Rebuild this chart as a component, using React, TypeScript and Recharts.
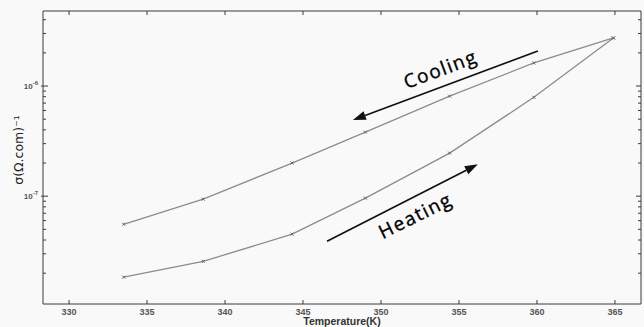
import React from 'react';
import {
  LineChart, Line, XAxis, YAxis, ReferenceLine, ReferenceDot,
} from 'recharts';

// temperature (K) of each measurement
const temperatures = [333.5, 338.6, 344.3, 349.0, 354.4, 359.8, 364.9];
// conductivity (Ohm.cm)^-1
const cooling = [5.56e-8, 9.4e-8, 2.0e-7, 3.82e-7, 8.1e-7, 1.62e-6, 2.73e-6];
const heating = [1.84e-8, 2.56e-8, 4.52e-8, 9.6e-8, 2.46e-7, 7.9e-7, 2.73e-6];

const xTicks = [330, 335, 340, 345, 350, 355, 360, 365];
const yMajor = [1e-7, 1e-6];
const yMinor = [2e-8, 3e-8, 4e-8, 5e-8, 6e-8, 7e-8, 8e-8, 9e-8,
  2e-7, 3e-7, 4e-7, 5e-7, 6e-7, 7e-7, 8e-7, 9e-7, 2e-6, 3e-6, 4e-6];
const yExponents = ['-7', '-6'];

const data = temperatures.map((t, i) => ({ t, cooling: cooling[i], heating: heating[i] }));
const yTicks = [...yMinor, ...yMajor].sort((a, b) => a - b);

const X_DOMAIN = [328.33, 366.67];
const Y_DOMAIN = [1.05e-8, 4.8e-6];

const axisColor = '#3a3a3a';
const tickFont = 'Liberation Sans, Arial, sans-serif';

const majorIndex = (v: number) => yMajor.findIndex((m) => Math.abs(m - v) / m < 1e-6);

const LeftTick = (props: any) => {
  const { x, y, payload } = props;
  const mi = majorIndex(payload.value);
  const major = mi >= 0;
  return (
    <g>
      <path d={`M${x - (major ? 2 : 0)},${y}H${x + (major ? 5 : 3)}`} stroke={axisColor} strokeWidth={1} fill="none" />
      {major && (
        <text x={x - 5} y={y + 2.5} textAnchor="end" fontSize={8} fontWeight="bold" fill="#555" fontFamily={tickFont}>
          10<tspan dy={-3.5} fontSize={6}>{yExponents[mi]}</tspan>
        </text>
      )}
    </g>
  );
};

const RightTick = (props: any) => {
  const { x, y, payload } = props;
  const major = majorIndex(payload.value) >= 0;
  return <path d={`M${x},${y}H${x - (major ? 5 : 3)}`} stroke={axisColor} strokeWidth={1} fill="none" />;
};

const BottomTick = (props: any) => {
  const { x, y, payload } = props;
  return (
    <g>
      <path d={`M${x},${y}V${y - 4}`} stroke={axisColor} strokeWidth={1} fill="none" />
      <text x={x} y={y + 11} textAnchor="middle" fontSize={9} fontWeight="bold" fill="#555" fontFamily={tickFont}>
        {payload.value}
      </text>
    </g>
  );
};

const TopTick = (props: any) => {
  const { x, y } = props;
  return <path d={`M${x},${y}V${y + 4}`} stroke={axisColor} strokeWidth={1} fill="none" />;
};

const Cross = (props: any) => {
  const { cx, cy, index } = props;
  if (cx == null || cy == null) return <g key={index} />;
  return (
    <path
      key={index}
      d={`M${cx - 1.5},${cy - 1.5}L${cx + 1.5},${cy + 1.5}M${cx - 1.5},${cy + 1.5}L${cx + 1.5},${cy - 1.5}`}
      stroke="#666"
      strokeWidth={1}
    />
  );
};

const Arrow = (props: any) => {
  const { x1, y1, x2, y2 } = props;
  const a = Math.atan2(y2 - y1, x2 - x1);
  const len = 13;
  const w = 4.5;
  const bx = x2 - len * Math.cos(a);
  const by = y2 - len * Math.sin(a);
  const px = -Math.sin(a) * w;
  const py = Math.cos(a) * w;
  return (
    <g>
      <line x1={x1} y1={y1} x2={bx} y2={by} stroke="#111" strokeWidth={1.7} />
      <polygon points={`${x2},${y2} ${bx + px},${by + py} ${bx - px},${by - py}`} fill="#111" />
    </g>
  );
};

const rotatedText = (text: string, angle: number) => (props: any) => {
  const { cx, cy } = props;
  return (
    <text
      x={cx}
      y={cy}
      textAnchor="middle"
      dominantBaseline="central"
      transform={`rotate(${angle}, ${cx}, ${cy})`}
      fontSize={19}
      letterSpacing={1.5}
      fill="#000"
      stroke="#000"
      strokeWidth={0.35}
      fontFamily="Open Sans, sans-serif"
    >
      {text}
    </text>
  );
};

export default function App() {
  return (
    <div style={{ position: 'absolute', left: 0, top: 0, width: 644, height: 327, background: '#f9f9f9' }}>
      <LineChart width={644} height={327} data={data} margin={{ top: 10, right: 2, left: 0, bottom: 0 }}>
        <XAxis
          dataKey="t"
          type="number"
          domain={X_DOMAIN}
          allowDataOverflow
          ticks={xTicks}
          interval={0}
          height={23}
          tickSize={0}
          tickMargin={0}
          tickLine={false}
          tick={<BottomTick />}
          axisLine={{ stroke: axisColor }}
          label={{ value: 'Temperature(K)', position: 'insideBottom', offset: 2, fontSize: 10.5, fontWeight: 'bold', fill: '#333', fontFamily: tickFont }}
        />
        <XAxis
          xAxisId="top"
          dataKey="t"
          type="number"
          orientation="top"
          domain={X_DOMAIN}
          allowDataOverflow
          ticks={xTicks}
          interval={0}
          height={1}
          tickSize={0}
          tickMargin={0}
          tickLine={false}
          tick={<TopTick />}
          axisLine={{ stroke: axisColor }}
        />
        <YAxis
          type="number"
          scale="log"
          domain={Y_DOMAIN}
          allowDataOverflow
          ticks={yTicks}
          interval={0}
          width={43}
          tickSize={0}
          tickMargin={0}
          tickLine={false}
          tick={<LeftTick />}
          axisLine={{ stroke: axisColor }}
          label={() => (
            <text x={18} y={150} textAnchor="middle" dominantBaseline="central" transform="rotate(-90, 18, 150)" fontSize={12.5} fill="#222" fontFamily="DejaVu Sans, sans-serif">
              σ(Ω.com)⁻¹
            </text>
          )}
        />
        <YAxis
          yAxisId="right"
          orientation="right"
          type="number"
          scale="log"
          domain={Y_DOMAIN}
          allowDataOverflow
          ticks={yTicks}
          interval={0}
          width={1}
          tickSize={0}
          tickMargin={0}
          tickLine={false}
          tick={<RightTick />}
          axisLine={{ stroke: axisColor }}
        />
        <Line dataKey="cooling" stroke="#8c8c8c" strokeWidth={1.3} dot={Cross} isAnimationActive={false} />
        <Line dataKey="heating" stroke="#8c8c8c" strokeWidth={1.3} dot={Cross} isAnimationActive={false} />
        <ReferenceLine segment={[{ x: 360.06, y: 2.08e-6 }, { x: 348.2, y: 4.91e-7 }]} shape={Arrow} />
        <ReferenceLine segment={[{ x: 346.54, y: 3.9e-8 }, { x: 356.21, y: 1.95e-7 }]} shape={Arrow} />
        <ReferenceDot x={353.8} y={1.43e-6} r={0} shape={rotatedText('Cooling', -20.7)} />
        <ReferenceDot x={352.2} y={6.7e-8} r={0} shape={rotatedText('Heating', -26.3)} />
      </LineChart>
    </div>
  );
}
